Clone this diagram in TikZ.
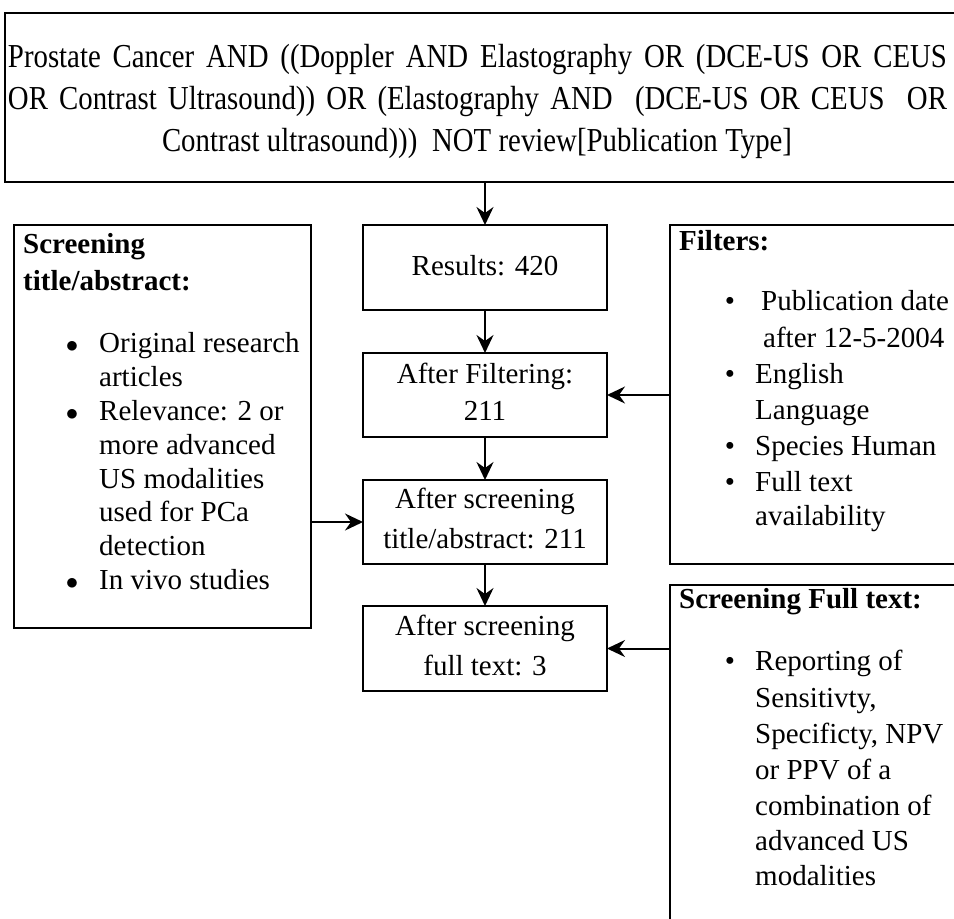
\documentclass[tikz,border=0pt]{standalone}
\usepackage{fontspec}
\setmainfont{Liberation Serif}
\newfontfamily\condfont[FakeStretch=0.86]{Liberation Serif}
\usetikzlibrary{arrows.meta}
\begin{document}
\begin{tikzpicture}[x=1pt,y=-1pt,
  box/.style={draw, line width=2pt, inner sep=0pt, outer sep=0pt},
  flow/.style={-{Stealth[length=18pt,width=17pt,inset=6pt]}, line width=2pt},
  qtext/.style={font=\condfont\fontsize{33.5}{42}\selectfont, inner sep=0pt, anchor=base},
  ctext/.style={font=\fontsize{29}{38}\selectfont, inner sep=0pt, anchor=base},
  ltext/.style={font=\fontsize{29}{38}\selectfont, inner sep=0pt, anchor=base west},
  htext/.style={font=\bfseries\fontsize{29}{38}\selectfont, inner sep=0pt, anchor=base west},
  bigdot/.style={font=\fontsize{29}{38}\selectfont, inner sep=0pt, anchor=base},
  smalldot/.style={font=\fontsize{29}{38}\selectfont, inner sep=0pt, anchor=base},
]
\useasboundingbox (0,0) rectangle (954,919);
\clip (0,0) rectangle (954,919);
\fill[white] (0,0) rectangle (954,919);

% query box
\node[box, anchor=north west, minimum width=990pt, minimum height=169pt] (query) at (5,13) {};
\node[qtext] (q1) at (477.5,67) {\makebox[939pt][s]{Prostate Cancer AND ((Doppler AND Elastography OR (DCE-US OR CEUS}};
\node[qtext] (q2) at (477.5,109) {\makebox[939pt][s]{OR Contrast Ultrasound)) OR (Elastography AND~ (DCE-US OR CEUS~ OR}};
\node[qtext] (q3) at (477,151) {\makebox[630pt][s]{Contrast ultrasound)))~~NOT review[Publication Type]}};

% central column
\node[box, minimum width=244pt, minimum height=85pt] (res) at (485,267.5) {};
\node[ctext] (res1) at (485,275) {Results: 420};
\node[box, minimum width=244pt, minimum height=84pt] (filt) at (485,395) {};
\node[ctext] (filt1) at (485,383) {After Filtering:};
\node[ctext] (filt2) at (485,420) {211};
\node[box, minimum width=244pt, minimum height=84pt] (scr) at (485,522) {};
\node[ctext] (scr1) at (485,508) {After screening};
\node[ctext] (scr2) at (485,548) {title/abstract: 211};
\node[box, minimum width=244pt, minimum height=85pt] (full) at (485,648.5) {};
\node[ctext] (full1) at (485,635) {After screening};
\node[ctext] (full2) at (485,675) {full text: 3};

% left box
\node[box, anchor=north west, minimum width=297pt, minimum height=403pt] (lbox) at (14,225) {};
\node[htext] (lh1) at (23,253) {Screening};
\node[htext] (lh2) at (23,290) {title/abstract:};
\node[bigdot] (lb1) at (72,352) {$\bullet$};
\node[bigdot] (lb2) at (72,420) {$\bullet$};
\node[bigdot] (lb3) at (72,589) {$\bullet$};
\node[ltext] (l1) at (99,352) {Original research};
\node[ltext] (l2) at (99,386) {articles};
\node[ltext] (l3) at (99,420) {Relevance: 2 or};
\node[ltext] (l4) at (99,454) {more advanced};
\node[ltext] (l5) at (99,488) {US modalities};
\node[ltext] (l6) at (99,521) {used for PCa};
\node[ltext] (l7) at (99,555) {detection};
\node[ltext] (l8) at (99,589) {In vivo studies};

% filters box
\node[box, anchor=north west, minimum width=330pt, minimum height=339pt] (fbox) at (670,225) {};
\node[htext] (fh) at (679,250) {Filters:};
\node[smalldot] (fb1) at (730,310) {•};
\node[smalldot] (fb2) at (730,383) {•};
\node[smalldot] (fb3) at (730,455) {•};
\node[smalldot] (fb4) at (730,491) {•};
\node[ltext] (f1) at (761,310) {Publication date};
\node[ltext] (f2) at (763,347) {after 12-5-2004};
\node[ltext] (f3) at (755,383) {English};
\node[ltext] (f4) at (755,419) {Language};
\node[ltext] (f5) at (755,455) {Species Human};
\node[ltext] (f6) at (755,491) {Full text};
\node[ltext] (f7) at (755,525) {availability};

% screening full text box
\node[box, anchor=north west, minimum width=330pt, minimum height=400pt] (sbox) at (670,585) {};
\node[htext] (sh) at (679,608) {Screening Full text:};
\node[smalldot] (sb1) at (730,670) {•};
\node[ltext] (s1) at (755,670) {Reporting of};
\node[ltext] (s2) at (755,707) {Sensitivty,};
\node[ltext] (s3) at (755,743) {Specificty, NPV};
\node[ltext] (s4) at (755,779) {or PPV of a};
\node[ltext] (s5) at (755,815) {combination of};
\node[ltext] (s6) at (755,850) {advanced US};
\node[ltext] (s7) at (755,885) {modalities};

% connectors
\draw[flow] (query.south -| res.north) -- (res.north);
\draw[flow] (res) -- (filt);
\draw[flow] (filt) -- (scr);
\draw[flow] (scr) -- (full);
\draw[flow] (fbox.west |- filt.east) -- (filt.east);
\draw[flow] (lbox.east |- scr.west) -- (scr.west);
\draw[flow] (sbox.west |- full.east) -- (full.east);
\end{tikzpicture}
\end{document}
